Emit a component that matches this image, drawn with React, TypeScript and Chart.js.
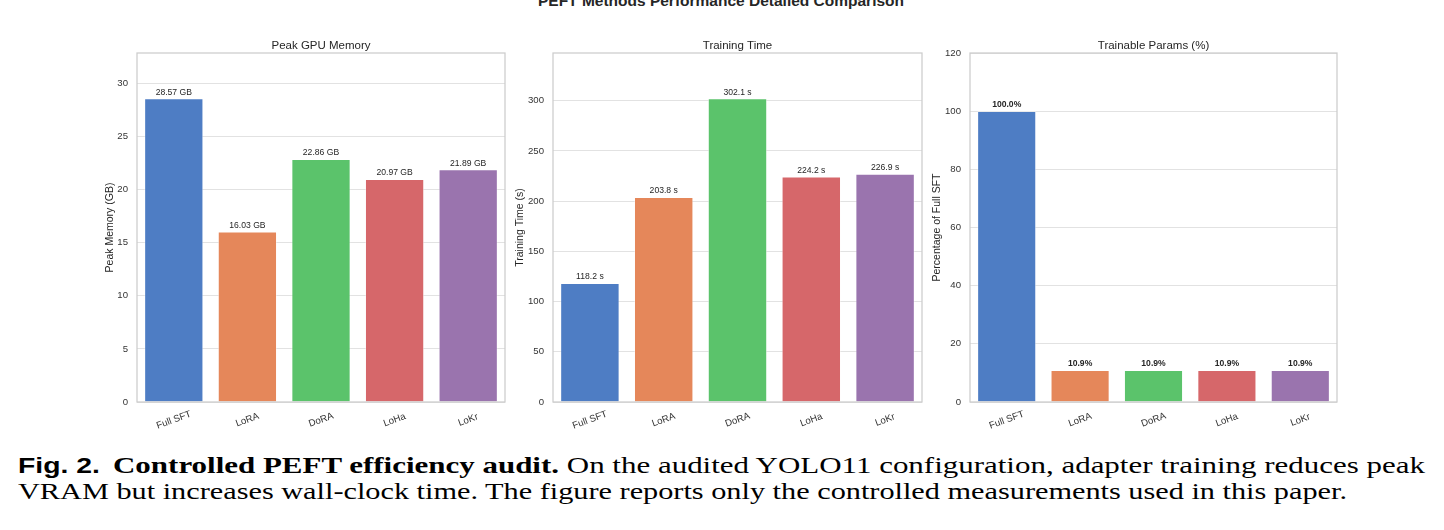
import React, { useEffect, useLayoutEffect, useRef } from "react";
import { Chart, registerables } from "chart.js";

Chart.register(...registerables);

// ---------- data ----------
const methods = ["Full SFT", "LoRA", "DoRA", "LoHa", "LoKr"];
const peakMemoryGB = [28.57, 16.03, 22.86, 20.97, 21.89];
const trainingTimeS = [118.2, 203.8, 302.1, 224.2, 226.9];
const trainableParamsPct = [100.0, 10.9, 10.9, 10.9, 10.9];

const memoryTicks = [0, 5, 10, 15, 20, 25, 30];
const timeTicks = [0, 50, 100, 150, 200, 250, 300];
const paramTicks = [0, 20, 40, 60, 80, 100, 120];

const memoryMax = 32.86;
const timeMax = 347.4;
const paramMax = 120;

const barColors = ["#4E7DC4", "#E5875A", "#5BC36B", "#D6676A", "#9A74AE"];

const FONT = '"Liberation Sans", Arial, sans-serif';

type PanelCfg = {
  title: string;
  yTitle: string;
  values: number[];
  ticks: number[];
  yMax: number;
  fmt: (v: number) => string;
  bold: boolean;
  left: number;
  width: number;
  yTitlePad: number;
};

const panels: PanelCfg[] = [
  {
    title: "Peak GPU Memory",
    yTitle: "Peak Memory (GB)",
    values: peakMemoryGB,
    ticks: memoryTicks,
    yMax: memoryMax,
    fmt: (v) => v.toFixed(2) + " GB",
    bold: false,
    left: 137,
    width: 368,
    yTitlePad: 36.5,
  },
  {
    title: "Training Time",
    yTitle: "Training Time (s)",
    values: trainingTimeS,
    ticks: timeTicks,
    yMax: timeMax,
    fmt: (v) => v.toFixed(1) + " s",
    bold: false,
    left: 553,
    width: 369,
    yTitlePad: 30.5,
  },
  {
    title: "Trainable Params (%)",
    yTitle: "Percentage of Full SFT",
    values: trainableParamsPct,
    ticks: paramTicks,
    yMax: paramMax,
    fmt: (v) => v.toFixed(1) + "%",
    bold: true,
    left: 970,
    width: 367,
    yTitlePad: 30.5,
  },
];

const Y_AXIS_W = 70;
const RIGHT_PAD = 10;
const CANVAS_H = 450;
const PLOT_TOP = 53;
const X_AXIS_H = 48;

function Panel({ cfg }: { cfg: PanelCfg }) {
  const ref = useRef<HTMLCanvasElement>(null);
  const cw = cfg.width + Y_AXIS_W + RIGHT_PAD;
  useEffect(() => {
    if (!ref.current) return;
    const decor = {
      id: "decor",
      afterDraw(chart: any) {
        const { ctx, chartArea: a, scales } = chart;
        ctx.save();
        // frame
        ctx.strokeStyle = "#cccccc";
        ctx.lineWidth = 1.25;
        ctx.strokeRect(a.left, a.top, a.right - a.left, a.bottom - a.top);
        // subplot title
        ctx.fillStyle = "#262626";
        ctx.font = `11.5px ${FONT}`;
        ctx.textAlign = "center";
        ctx.textBaseline = "alphabetic";
        ctx.fillText(cfg.title, (a.left + a.right) / 2, a.top - 4);
        // x tick labels (rotated, centred)
        const xs = scales.x;
        ctx.font = `9.6px ${FONT}`;
        ctx.fillStyle = "#333333";
        methods.forEach((m, i) => {
          const x = xs.getPixelForTick(i);
          ctx.save();
          ctx.translate(x, a.bottom + 18);
          ctx.rotate((-20 * Math.PI) / 180);
          ctx.textAlign = "center";
          ctx.textBaseline = "middle";
          ctx.fillText(m, 0, 0);
          ctx.restore();
        });
        // bar value labels
        const meta = chart.getDatasetMeta(0);
        ctx.font = `${cfg.bold ? "bold " : ""}8.6px ${FONT}`;
        ctx.fillStyle = "#262626";
        ctx.textAlign = "center";
        ctx.textBaseline = "alphabetic";
        meta.data.forEach((bar: any, i: number) => {
          ctx.fillText(cfg.fmt(cfg.values[i]), bar.x, bar.y - 4);
        });
        ctx.restore();
      },
    };
    const chart = new Chart(ref.current, {
      type: "bar",
      data: {
        labels: methods,
        datasets: [
          {
            data: cfg.values,
            backgroundColor: barColors,
            borderColor: "rgba(255,255,255,0.55)",
            borderWidth: 0.8,
            barPercentage: 0.8,
            categoryPercentage: 1.0,
          },
        ],
      },
      options: {
        animation: false,
        responsive: false,
        devicePixelRatio: window.devicePixelRatio || 1,
        layout: { padding: { top: PLOT_TOP, right: RIGHT_PAD, left: 0, bottom: 0 } },
        plugins: {
          legend: { display: false },
          tooltip: { enabled: false },
          title: { display: false },
        },
        scales: {
          x: {
            afterFit: (s: any) => {
              s.height = X_AXIS_H;
            },
            grid: { display: false },
            border: { display: false },
            ticks: { display: false },
          },
          y: {
            min: 0,
            max: cfg.yMax,
            afterBuildTicks: (s: any) => {
              s.ticks = cfg.ticks.map((v) => ({ value: v }));
            },
            afterFit: (s: any) => {
              s.width = Y_AXIS_W;
            },
            grid: { color: "#e2e2e2", lineWidth: 1, drawTicks: false },
            border: { display: false },
            ticks: {
              padding: 9,
              color: "#333333",
              font: { family: FONT, size: 9.6 },
              callback: (v: any) => String(v),
            },
            title: {
              display: true,
              text: cfg.yTitle,
              color: "#262626",
              font: { family: FONT, size: 10.5 },
              padding: { top: cfg.yTitlePad, bottom: 0 },
            },
          },
        },
      },
      plugins: [decor],
    } as any);
    return () => chart.destroy();
  }, []);
  return (
    <canvas
      ref={ref}
      width={cw}
      height={CANVAS_H}
      style={{
        position: "absolute",
        left: cfg.left - Y_AXIS_W,
        top: 0,
        width: cw,
        height: CANVAS_H,
      }}
    />
  );
}

function CaptionLine({
  top,
  target,
  children,
}: {
  top: number;
  target: number;
  children: React.ReactNode;
}) {
  const ref = useRef<HTMLDivElement>(null);
  useLayoutEffect(() => {
    const fit = () => {
      const el = ref.current;
      if (!el) return;
      el.style.transform = "none";
      const w = el.getBoundingClientRect().width;
      if (w > 0) el.style.transform = `scaleX(${target / w})`;
    };
    fit();
    (document as any).fonts?.ready?.then(fit);
  }, []);
  return (
    <div
      ref={ref}
      style={{
        position: "absolute",
        left: 18,
        top,
        whiteSpace: "nowrap",
        transformOrigin: "0 0",
        fontFamily: '"Liberation Serif", "Times New Roman", serif',
        fontSize: 23.5,
        lineHeight: "23.5px",
        color: "#000",
      }}
    >
      {children}
    </div>
  );
}

export default function App() {
  return (
    <div
      style={{
        position: "absolute",
        left: 0,
        top: 0,
        width: 1444,
        height: 530,
        background: "#fff",
        overflow: "hidden",
      }}
    >
      <div
        style={{
          position: "absolute",
          left: 0,
          top: -7,
          width: 1442,
          textAlign: "center",
          fontFamily: FONT,
          fontWeight: "bold",
          fontSize: 15.5,
          lineHeight: "15.5px",
          color: "#262626",
          whiteSpace: "nowrap",
        }}
      >
        PEFT Methods Performance Detailed Comparison
      </div>
      {panels.map((p, i) => (
        <Panel key={i} cfg={p} />
      ))}
      <CaptionLine top={454.3} target={1407}>
        <span style={{ fontFamily: FONT, fontWeight: "bold", fontSize: 21.5 }}>Fig. 2.</span>
        <span style={{ display: "inline-block", width: 10 }} />
        <b>Controlled PEFT efficiency audit.</b> On the audited YOLO11 configuration, adapter
        training reduces peak
      </CaptionLine>
      <CaptionLine top={480.3} target={1329}>
        VRAM but increases wall-clock time. The figure reports only the controlled measurements
        used in this paper.
      </CaptionLine>
    </div>
  );
}
